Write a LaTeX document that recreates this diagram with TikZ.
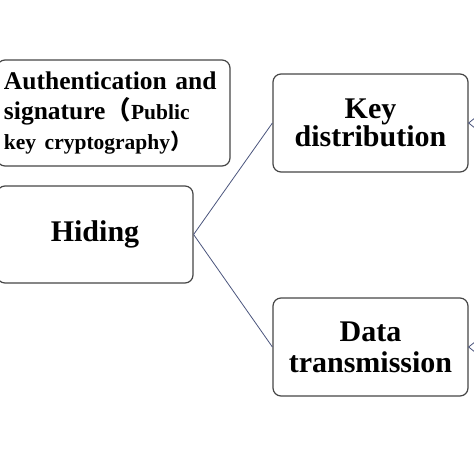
\documentclass[tikz,border=0pt]{standalone}
\usepackage{fontspec}
\setmainfont{Liberation Serif}
\newfontfamily\cjk{Noto Sans CJK SC}
\usepackage{xcolor}
\definecolor{boxgray}{RGB}{70,70,70}
\definecolor{linkblue}{RGB}{75,85,125}

\tikzset{
  box/.style={draw=boxgray, line width=1.2pt, rounded corners=8pt, fill=white,
    inner sep=0pt, font=\bfseries\fontsize{30}{30}\selectfont, align=center},
  link/.style={draw=linkblue, line width=0.8pt}
}

\begin{document}
\begin{tikzpicture}[x=1pt, y=-1pt]
\useasboundingbox (0,0) rectangle (474,474);

% left column
\node[box, minimum width=233pt, minimum height=106pt, align=left, text width=219pt,
  font=\bfseries\fontsize{25.5}{30}\selectfont] (auth) at (113.5,113)
  {Authentication and\\
   signature{\cjk（}{\fontsize{21.5}{28}\selectfont Public}\\
   {\fontsize{21.5}{28}\selectfont key cryptography{\cjk）}}};
\node[box, minimum width=196pt, minimum height=97pt] (hiding) at (95,234.5) {Hiding};

% right column
\node[box, minimum width=195pt, minimum height=98pt] (keydist) at (370.5,123) {Key\\[-2pt]distribution};
\node[box, minimum width=195pt, minimum height=98pt] (data) at (370.5,347) {Data\\[1pt]transmission};

% links
\draw[link] (hiding.east) -- (keydist.west);
\draw[link] (hiding.east) -- (data.west);

% stubs leaving the picture
\coordinate (kup) at (490,106);
\coordinate (kdown) at (490,140);
\coordinate (dup) at (490,330);
\coordinate (ddown) at (490,364);
\draw[link] (kup) -- (keydist.east) -- (kdown);
\draw[link] (dup) -- (data.east) -- (ddown);

\end{tikzpicture}
\end{document}
